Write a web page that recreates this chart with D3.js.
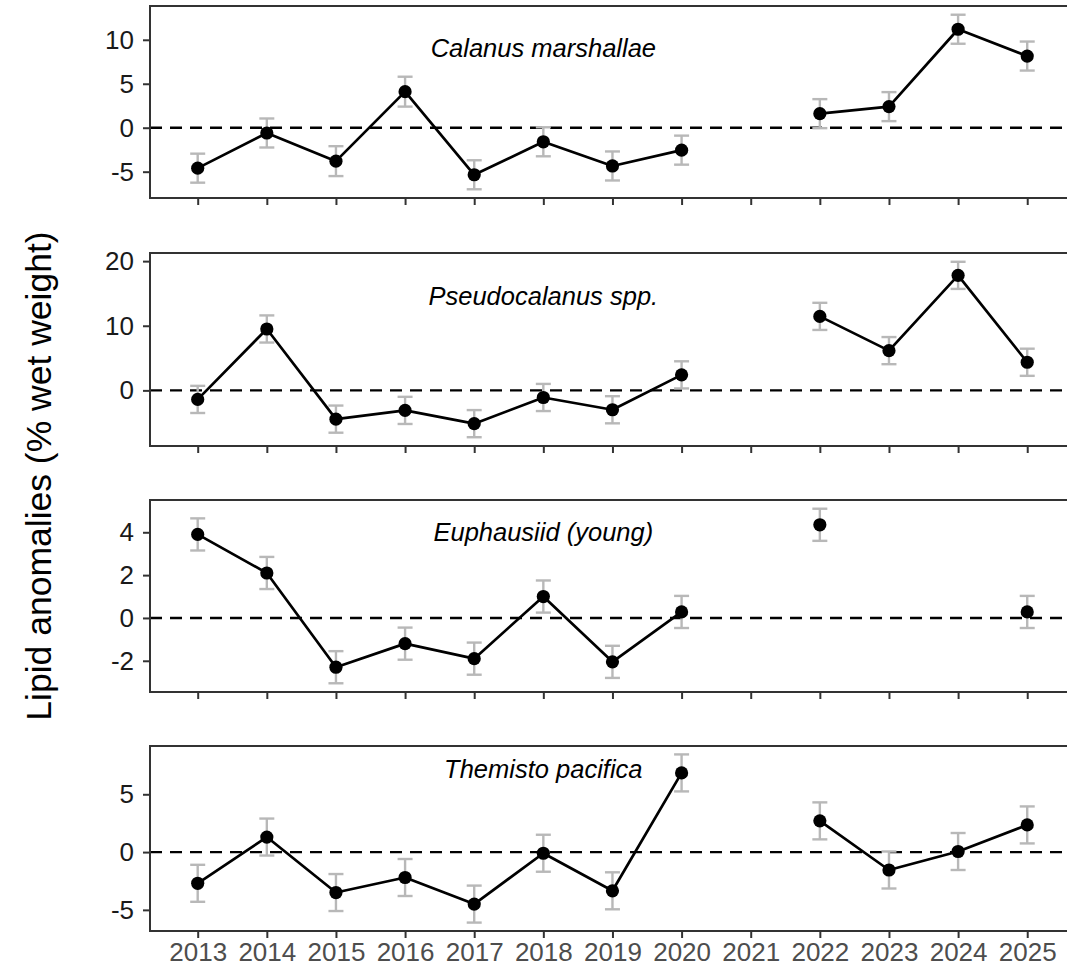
<!DOCTYPE html>
<html>
<head>
<meta charset="utf-8">
<script src="https://cdn.jsdelivr.net/npm/d3@7"></script>
<style>
  html, body { margin: 0; padding: 0; background: #ffffff; }
  svg { display: block; }
  text { font-family: "Liberation Sans", Arial, sans-serif; }
</style>
</head>
<body>
<svg id="chart" width="1067" height="972"></svg>
<script>
// Sampling years (2021 had no samples)
const years = [2013, 2014, 2015, 2016, 2017, 2018, 2019, 2020, 2021, 2022, 2023, 2024, 2025];

// Lipid anomalies (% wet weight) and standard errors per taxon
const calanusMean   = [-4.6, -0.6, -3.8, 4.1, -5.35, -1.6, -4.35, -2.55, null, 1.6, 2.4, 11.2, 8.15];
const calanusSE     = [1.65, 1.65, 1.7, 1.7, 1.65, 1.65, 1.65, 1.65, null, 1.65, 1.65, 1.65, 1.65];

const pseudoMean    = [-1.4, 9.5, -4.45, -3.1, -5.15, -1.1, -3.0, 2.4, null, 11.45, 6.15, 17.8, 4.35];
const pseudoSE      = [2.1, 2.1, 2.1, 2.1, 2.1, 2.1, 2.1, 2.1, null, 2.1, 2.1, 2.1, 2.1];

const euphMean      = [3.9, 2.1, -2.3, -1.2, -1.9, 1.0, -2.05, 0.28, null, 4.35, null, null, 0.28];
const euphSE        = [0.75, 0.75, 0.75, 0.75, 0.75, 0.75, 0.75, 0.75, null, 0.75, null, null, 0.75];

const themistoMean  = [-2.7, 1.3, -3.5, -2.2, -4.5, -0.1, -3.35, 6.85, null, 2.7, -1.55, 0.05, 2.35];
const themistoSE    = [1.6, 1.6, 1.6, 1.6, 1.6, 1.6, 1.6, 1.6, null, 1.6, 1.6, 1.6, 1.6];

const taxa = ["Calanus marshallae", "Pseudocalanus spp.", "Euphausiid (young)", "Themisto pacifica"];
const yTickValues = [[-5, 0, 5, 10], [0, 10, 20], [-2, 0, 2, 4], [-5, 0, 5]];
const yAxisTitle = "Lipid anomalies (% wet weight)";

const seriesMeans = [calanusMean, pseudoMean, euphMean, themistoMean];
const seriesSE = [calanusSE, pseudoSE, euphSE, themistoSE];

// Panel layout (pixels)
const panelLeft = 150;
const panelRight = 1068.7;
const panelBoxes = [
  { top: 6,   bottom: 198, titleDy: 42 },
  { top: 253, bottom: 446, titleDy: 43 },
  { top: 500, bottom: 692, titleDy: 32 },
  { top: 746, bottom: 931, titleDy: 23 }
];

const svg = d3.select("#chart");
svg.append("rect").attr("width", 1067).attr("height", 972).attr("fill", "#ffffff");

const x = d3.scaleLinear().domain([2012.31, 2025.6]).range([panelLeft, panelRight]);

const frameColor = "#333333";
const tickFont = 26;

panelBoxes.forEach((box, i) => {
  const means = seriesMeans[i];
  const ses = seriesSE[i];
  const rows = years.map((yr, j) => ({ year: yr, mean: means[j], se: ses[j] }));
  const valid = rows.filter(d => d.mean !== null);

  // y domain: data range incl. error bars, expanded by 5% on each side
  const lo = d3.min(valid, d => d.mean - d.se);
  const hi = d3.max(valid, d => d.mean + d.se);
  const pad = (hi - lo) * 0.05;
  const y = d3.scaleLinear().domain([lo - pad, hi + pad]).range([box.bottom, box.top]);

  const g = svg.append("g");

  // zero reference line
  g.append("line")
    .attr("x1", panelLeft).attr("x2", 1067)
    .attr("y1", y(0)).attr("y2", y(0))
    .attr("stroke", "#000").attr("stroke-width", 2.4)
    .attr("stroke-dasharray", "12,8");

  // error bars
  const eb = g.append("g").attr("stroke", "#b8b8b8").attr("stroke-width", 2.4).attr("fill", "none");
  valid.forEach(d => {
    const cx = x(d.year);
    eb.append("line").attr("x1", cx).attr("x2", cx).attr("y1", y(d.mean - d.se)).attr("y2", y(d.mean + d.se));
    eb.append("line").attr("x1", cx - 7.5).attr("x2", cx + 7.5).attr("y1", y(d.mean + d.se)).attr("y2", y(d.mean + d.se));
    eb.append("line").attr("x1", cx - 7.5).attr("x2", cx + 7.5).attr("y1", y(d.mean - d.se)).attr("y2", y(d.mean - d.se));
  });

  // connecting line, broken at missing years
  const line = d3.line()
    .defined(d => d.mean !== null)
    .x(d => x(d.year))
    .y(d => y(d.mean));
  g.append("path")
    .datum(rows)
    .attr("d", line)
    .attr("fill", "none")
    .attr("stroke", "#000")
    .attr("stroke-width", 2.7)
    .attr("stroke-linejoin", "round");

  // points
  g.selectAll("circle.pt")
    .data(valid)
    .join("circle")
    .attr("class", "pt")
    .attr("cx", d => x(d.year))
    .attr("cy", d => y(d.mean))
    .attr("r", 6.6)
    .attr("fill", "#000");

  // panel frame (right edge runs past the canvas)
  g.append("rect")
    .attr("x", panelLeft).attr("y", box.top)
    .attr("width", panelRight - panelLeft).attr("height", box.bottom - box.top)
    .attr("fill", "none").attr("stroke", frameColor).attr("stroke-width", 2);

  // y axis
  const yAxis = d3.axisLeft(y).tickValues(yTickValues[i]).tickSize(7).tickPadding(9).tickFormat(d3.format("d"));
  const ya = g.append("g").attr("transform", `translate(${panelLeft},0)`).call(yAxis);
  ya.select(".domain").remove();
  ya.selectAll(".tick line").attr("stroke", frameColor).attr("stroke-width", 2);
  ya.selectAll(".tick text")
    .attr("fill", "#1a1a1a")
    .style("font-size", tickFont + "px")
    .style("font-family", "'Liberation Sans', Arial, sans-serif")
    .text(d => d < 0 ? "-" + Math.abs(d) : d);

  // x axis ticks on every panel; labels only on the bottom one
  const xAxis = d3.axisBottom(x).tickValues(years).tickSize(7).tickPadding(5).tickFormat(d3.format("d"));
  const xa = g.append("g").attr("transform", `translate(0,${box.bottom})`).call(xAxis);
  xa.select(".domain").remove();
  xa.selectAll(".tick line").attr("stroke", frameColor).attr("stroke-width", 2);
  if (i === panelBoxes.length - 1) {
    xa.selectAll(".tick text")
      .attr("fill", "#4d4d4d")
      .style("font-size", tickFont + "px")
      .style("font-family", "'Liberation Sans', Arial, sans-serif");
  } else {
    xa.selectAll(".tick text").remove();
  }

  // taxon label
  g.append("text")
    .attr("x", x(2018))
    .attr("y", box.top + box.titleDy)
    .attr("text-anchor", "middle")
    .attr("dominant-baseline", "central")
    .style("font-size", "25.5px")
    .style("font-style", "italic")
    .attr("fill", "#000")
    .text(taxa[i]);
});

// shared y-axis title
svg.append("text")
  .attr("transform", "translate(51,476) rotate(-90)")
  .attr("text-anchor", "middle")
  .style("font-size", "35.5px")
  .attr("fill", "#000")
  .text(yAxisTitle);
</script>
</body>
</html>
